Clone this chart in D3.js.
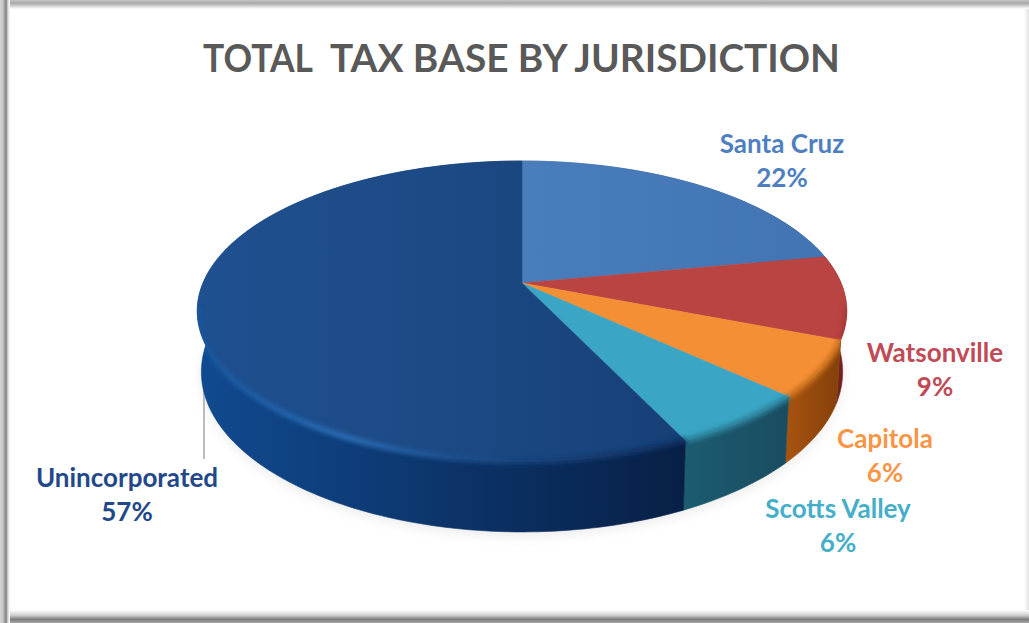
<!DOCTYPE html>
<html>
<head>
<meta charset="utf-8">
<script src="https://cdnjs.cloudflare.com/ajax/libs/d3/7.8.5/d3.min.js"></script>
<style>
html,body{margin:0;padding:0;background:#fff;overflow:hidden}
svg{display:block}
text{font-family:Lato,"Open Sans",sans-serif;font-weight:700}
</style>
</head>
<body>
<svg id="c" width="1029" height="623"></svg>
<script>
const titleWords = ["TOTAL", "TAX BASE BY JURISDICTION"];
const categories = ["Santa Cruz", "Watsonville", "Capitola", "Scotts Valley", "Unincorporated"];
const shares = [22, 9, 6, 6, 57];
const shareLabels = ["22%", "9%", "6%", "6%", "57%"];
const topColors = ["#4478b8", "#b94441", "#f58f36", "#3aa5c4", "#1c4a84"];
const labelColors = ["#4f7fc0", "#c04a55", "#f79646", "#45aec8", "#23488a"];
const wallFrom = ["#3a6599", "#8a2c2a", "#a8540f", "#1c5b70", "#114a90"];
const wallTo = ["#2e5080", "#6f1f1e", "#7e3c0a", "#1a4c60", "#071f45"];

const W = 1029, H = 623;
const svg = d3.select("#c");
const defs = svg.append("defs");

// perspective view of the disc
const K = 0.187;
const topView = {cx: 522, cy: 283, a: 319, b: 144.8};
const baseView = {cx: 522, cy: 342, a: 315, b: 154.4};
function project(view, angle) {
  const u = Math.sin(angle), v = -Math.cos(angle), d = 1 - K * v;
  return [view.cx + view.a * u / d, view.cy + view.b * v / d];
}
function rimPoints(view, a0, a1) {
  const n = Math.max(2, Math.ceil((a1 - a0) / 0.02));
  return d3.range(n + 1).map(i => project(view, a0 + (a1 - a0) * i / n));
}
const line = d3.line();

const arcs = d3.pie().sort(null).value(d => d)(shares);

// helpers
function hGrad(id, x1, x2, stops) {
  const g = defs.append("linearGradient").attr("id", id)
    .attr("gradientUnits", "userSpaceOnUse")
    .attr("x1", x1).attr("x2", x2).attr("y1", 0).attr("y2", 0);
  stops.forEach(s => g.append("stop").attr("offset", s[0]).attr("stop-color", s[1]));
}
function vGrad(id, y1, y2, stops) {
  const g = defs.append("linearGradient").attr("id", id)
    .attr("gradientUnits", "userSpaceOnUse")
    .attr("x1", 0).attr("x2", 0).attr("y1", y1).attr("y2", y2);
  stops.forEach(s => g.append("stop").attr("offset", s[0]).attr("stop-color", s[1]));
}
[["b2", 2], ["b5", 6]].forEach(([id, s]) => {
  defs.append("filter").attr("id", id)
    .attr("filterUnits", "userSpaceOnUse")
    .attr("x", 0).attr("y", 0).attr("width", W).attr("height", H)
    .append("feGaussianBlur").attr("stdDeviation", s);
});

// picture frame
svg.append("rect").attr("width", W).attr("height", H).attr("fill", "#fff");
vGrad("fT", 0, 9, [[0, "#c4c4c4"], [0.35, "#a8a8a8"], [0.6, "#c8c8c8"], [1, "#ffffff"]]);
vGrad("fB", 610, 623, [[0, "#ffffff"], [0.4, "#d0d0d0"], [0.72, "#7c7c7c"], [1, "#a8a8a8"]]);
hGrad("fL", 0, 10, [[0, "#d4d4d4"], [0.3, "#c4c4c4"], [0.6, "#7f7f7f"], [0.8, "#d8d8d8"], [1, "#ffffff"]]);
hGrad("fR", 1024, 1029, [[0, "#ffffff"], [1, "#e2e2e2"]]);
svg.append("rect").attr("x", 1024).attr("width", 5).attr("height", H).attr("fill", "url(#fR)");
svg.append("rect").attr("width", W).attr("height", 9).attr("fill", "url(#fT)");
svg.append("rect").attr("y", 610).attr("width", W).attr("height", 13).attr("fill", "url(#fB)");
svg.append("rect").attr("width", 10).attr("height", H).attr("fill", "url(#fL)");

// title
const titleSpans = [[203, 110], [330, 510]];
svg.append("text").attr("y", 72).attr("fill", "#595959").attr("font-size", 38)
  .selectAll("tspan").data(titleWords).join("tspan")
  .attr("x", (d, i) => titleSpans[i][0])
  .attr("textLength", (d, i) => titleSpans[i][1])
  .attr("lengthAdjust", "spacingAndGlyphs")
  .text(d => d);

// soft shadow under the disc
svg.append("path")
  .attr("d", line(rimPoints({...baseView, cy: baseView.cy + 4}, 0, 2 * Math.PI)) + "Z")
  .attr("fill", "#a0a0a0").attr("opacity", 0.2).attr("filter", "url(#b5)");

// leader line for Unincorporated
svg.append("line")
  .attr("x1", 204).attr("x2", 204).attr("y1", 385).attr("y2", 459)
  .attr("stroke", "#a6a6a6").attr("stroke-width", 1.5);

// walls: one band per slice, from top rim to base rim
const wallPaths = arcs.map(d => {
  const t = rimPoints(topView, d.startAngle, d.endAngle);
  const b = rimPoints(baseView, d.startAngle, d.endAngle).reverse();
  return line(t.concat(b)) + "Z";
});
const wallX = [[640, 850], [800, 850], [785, 850], [685, 790], [200, 690]];
arcs.forEach((d, i) => hGrad("w" + i, wallX[i][0], wallX[i][1], [[0, wallFrom[i]], [1, wallTo[i]]]));
svg.append("g").selectAll("path").data(arcs).join("path")
  .attr("d", (d, i) => wallPaths[i])
  .attr("fill", (d, i) => `url(#w${i})`)
  .attr("stroke", (d, i) => `url(#w${i})`).attr("stroke-width", 0.6);

// top face
const slicePath = d => line([[topView.cx, topView.cy]].concat(rimPoints(topView, d.startAngle, d.endAngle))) + "Z";
hGrad("t4", 196, 690, [[0, "#1f5090"], [0.5, "#1c4a84"], [1, "#173f78"]]);
hGrad("t0", 522, 830, [[0, "#4a7dbb"], [1, "#4274b3"]]);
svg.append("g").selectAll("path").data(arcs).join("path")
  .attr("d", slicePath)
  .attr("fill", (d, i) => i === 4 ? "url(#t4)" : i === 0 ? "url(#t0)" : topColors[i])
  .attr("stroke", (d, i) => i === 4 ? "url(#t4)" : i === 0 ? "url(#t0)" : topColors[i])
  .attr("stroke-width", 0.5);

// rounded bevel along the front rim only
const clip = defs.append("clipPath").attr("id", "disc");
arcs.forEach((d, i) => {
  clip.append("path").attr("d", wallPaths[i]);
  clip.append("path").attr("d", slicePath(d));
});
hGrad("bevel4", 200, 690, [[0, "#17559c"], [0.3, "#2a6cb4"], [0.55, "#1c4c88"], [1, "#0c2a58"]]);
const bevelColors = ["#5b8cc8", "#a83836", "#c9701f", "#2b7f98", "url(#bevel4)"];
const frontFrom = Math.PI * 0.55, frontTo = Math.PI * 1.45;
const front = arcs.filter(d => d.endAngle > frontFrom && d.startAngle < frontTo);
svg.append("g").attr("clip-path", "url(#disc)")
  .selectAll("path").data(front).join("path")
  .attr("d", d => line(rimPoints(topView, Math.max(d.startAngle, frontFrom), Math.min(d.endAngle, frontTo))))
  .attr("fill", "none")
  .attr("stroke", d => bevelColors[d.index])
  .attr("stroke-width", 6)
  .attr("filter", "url(#b2)");

// labels
const labelSpots = [[782, 153, 187], [935, 362, 396], [885, 448, 482], [838, 518, 552], [127, 487, 521]];
const lab = svg.append("g").selectAll("g").data(categories).join("g")
  .attr("text-anchor", "middle")
  .attr("fill", (d, i) => labelColors[i])
  .attr("font-size", 26);
lab.append("text").attr("x", (d, i) => labelSpots[i][0]).attr("y", (d, i) => labelSpots[i][1]).text(d => d);
lab.append("text").attr("x", (d, i) => labelSpots[i][0]).attr("y", (d, i) => labelSpots[i][2]).text((d, i) => shareLabels[i]);
</script>
</body>
</html>
